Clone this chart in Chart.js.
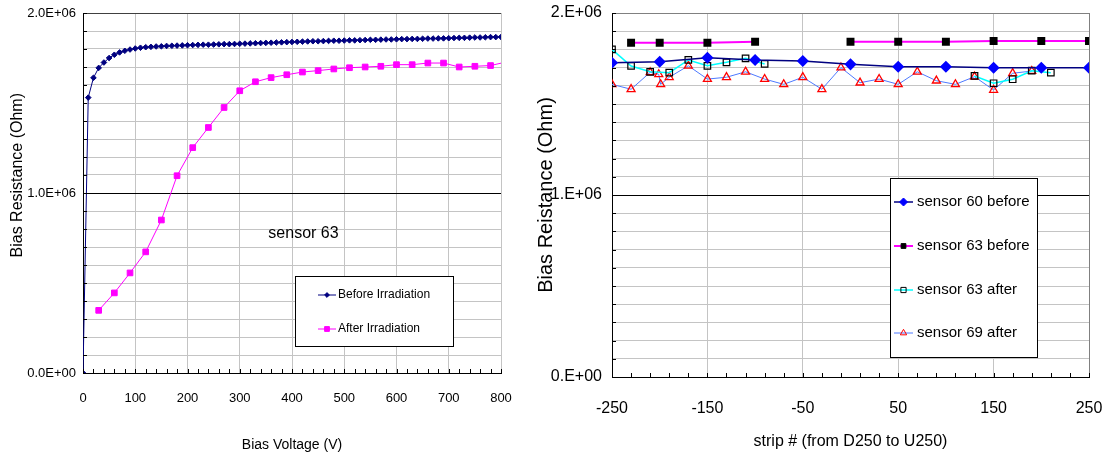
<!DOCTYPE html>
<html>
<head>
<meta charset="utf-8">
<script src="https://cdn.jsdelivr.net/npm/chart.js"></script>
<style>
  body { margin: 0; background: #fff; }
  canvas { position: absolute; top: 0; }
  #left-chart { left: 0; }
  #right-chart { left: 520px; }
</style>
</head>
<body>
<canvas id="left-chart" width="520" height="459"></canvas>
<canvas id="right-chart" width="587" height="459"></canvas>
<script>
// ---- left chart: sensor 63, resistance vs bias voltage (MOhm) ----
const biasVoltageBefore = [0, 10, 20, 30, 40, 50, 60, 70, 80, 90, 100, 110, 120, 130, 140, 150, 160, 170, 180, 190,
  200, 210, 220, 230, 240, 250, 260, 270, 280, 290, 300, 310, 320, 330, 340, 350, 360, 370, 380, 390,
  400, 410, 420, 430, 440, 450, 460, 470, 480, 490, 500, 510, 520, 530, 540, 550, 560, 570, 580, 590,
  600, 610, 620, 630, 640, 650, 660, 670, 680, 690, 700, 710, 720, 730, 740, 750, 760, 770, 780, 790, 800];
const resistanceBefore = [0, 1.53, 1.64, 1.695, 1.725, 1.75, 1.768, 1.781, 1.79, 1.797, 1.803, 1.807, 1.81, 1.812, 1.814, 1.815, 1.817, 1.818, 1.819, 1.82,
  1.821, 1.822, 1.823, 1.824, 1.824, 1.825, 1.826, 1.827, 1.827, 1.828, 1.829, 1.83, 1.831, 1.832, 1.833, 1.834, 1.835, 1.836, 1.837, 1.838,
  1.839, 1.84, 1.841, 1.842, 1.843, 1.843, 1.844, 1.845, 1.846, 1.846, 1.847, 1.848, 1.848, 1.849, 1.85, 1.851, 1.851, 1.852, 1.853, 1.853,
  1.854, 1.855, 1.855, 1.856, 1.856, 1.857, 1.858, 1.858, 1.859, 1.859, 1.86, 1.861, 1.862, 1.862, 1.863, 1.864, 1.864, 1.865, 1.866, 1.866, 1.867];

const biasVoltageAfter = [30, 60, 90, 120, 150, 180, 210, 240, 270, 300, 330, 360, 390, 420, 450, 480, 510, 540, 570, 600, 630, 660, 690, 720, 750, 780, 810];
const resistanceAfter = [0.348, 0.445, 0.556, 0.673, 0.85, 1.096, 1.252, 1.364, 1.475, 1.568, 1.618, 1.641, 1.657, 1.672, 1.68, 1.689, 1.696, 1.7, 1.704, 1.713, 1.713, 1.722, 1.722, 1.7, 1.704, 1.708, 1.728];

const leftYTickValues = [0, 1, 2];
const leftYTickLabels = ['0.0E+00', '1.0E+06', '2.0E+06'];
const leftXTickValues = [0, 100, 200, 300, 400, 500, 600, 700, 800];

// ---- right chart: resistance per strip (MOhm) ----
const s60BeforeStrips = [-250, -200, -150, -100, -50, 0, 50, 100, 150, 200, 250];
const s60Before = [1.727, 1.732, 1.754, 1.742, 1.736, 1.718, 1.705, 1.705, 1.699, 1.699, 1.699];

const s63BeforeStrips = [-230, -200, -150, -100, -50, 0, 50, 100, 150, 200, 250];
const s63Before = [1.837, 1.837, 1.837, 1.842, null, 1.842, 1.842, 1.842, 1.846, 1.846, 1.846];

const s63AfterStrips = [-250, -230, -210, -190, -170, -150, -130, -110, -90, 20, 130, 150, 170, 190, 210];
const s63After = [1.8, 1.709, 1.677, 1.672, 1.742, 1.71, 1.729, 1.751, 1.72, null, 1.654, 1.614, 1.636, 1.683, 1.672];

const s69AfterStrips = [-250, -230, -210, -201, -199, -190, -170, -150, -130, -110, -90, -70, -50, -30, -10,
  10, 30, 50, 70, 90, 110, 130, 150, 170, 190];
const s69After = [1.608, 1.581, 1.674, 1.663, 1.608, 1.647, 1.71, 1.637, 1.647, 1.677, 1.637, 1.608, 1.647, 1.581, 1.7,
  1.617, 1.637, 1.608, 1.677, 1.628, 1.608, 1.65, 1.577, 1.669, 1.681];

const rightYTickValues = [0, 1, 2];
const rightYTickLabels = ['0.E+00', '1.E+06', '2.E+06'];
const rightXTickValues = [-250, -150, -50, 50, 150, 250];

const FONT = "'Liberation Sans', Arial, sans-serif";
Chart.defaults.font.family = FONT;
Chart.defaults.color = '#000';

function toPoints(xs, ys) {
  return xs.map((x, i) => ({ x: x, y: ys[i] }));
}

function labelFor(values, labels, v) {
  const i = values.findIndex(t => Math.abs(t - v) < 1e-9);
  return i >= 0 ? labels[i] : '';
}

// fixed axis sizes, no extra room for overflowing end labels
function fixHeight(h) {
  return s => { s.height = h; s.paddingLeft = 0; s.paddingRight = 0; };
}
function fixWidth(w) {
  return s => { s.width = w; s.paddingTop = 0; s.paddingBottom = 0; };
}

// small tick marks drawn inside the plot area
const innerTicks = {
  id: 'innerTicks',
  afterDatasetsDraw(chart) {
    const { ctx, chartArea: a, scales } = chart;
    ctx.save();
    ctx.strokeStyle = '#000';
    ctx.lineWidth = 1;
    ctx.beginPath();
    scales.x.ticks.forEach(t => {
      const px = Math.round(scales.x.getPixelForValue(t.value)) + 0.5;
      ctx.moveTo(px, a.bottom);
      ctx.lineTo(px, a.bottom - 4);
    });
    scales.y.ticks.forEach(t => {
      const py = Math.round(scales.y.getPixelForValue(t.value)) + 0.5;
      ctx.moveTo(a.left, py);
      ctx.lineTo(a.left + 4, py);
    });
    ctx.stroke();
    ctx.restore();
  }
};

function drawMarker(ctx, style, r, x, y) {
  if (Chart.helpers && Chart.helpers.drawPoint) {
    Chart.helpers.drawPoint(ctx, { pointStyle: style, radius: r, rotation: 0, borderWidth: 1 }, x, y);
    return;
  }
  ctx.beginPath();
  ctx.rect(x - r * 0.7, y - r * 0.7, r * 1.4, r * 1.4);
  ctx.fill();
  ctx.stroke();
}

// boxed legend placed inside the plot
const boxLegend = {
  id: 'boxLegend',
  afterDraw(chart, args, o) {
    const { ctx } = chart;
    ctx.save();
    ctx.fillStyle = '#fff';
    ctx.fillRect(o.x, o.y, o.w, o.h);
    ctx.strokeStyle = '#000';
    ctx.lineWidth = 1;
    ctx.strokeRect(o.x + 0.5, o.y + 0.5, o.w, o.h);
    ctx.font = o.size + 'px ' + FONT;
    ctx.textBaseline = 'middle';
    ctx.textAlign = 'left';
    chart.data.datasets.forEach((ds, i) => {
      const y = o.rows[i];
      ctx.strokeStyle = ds.borderColor;
      ctx.lineWidth = ds.borderWidth;
      ctx.beginPath();
      ctx.moveTo(o.lineX0, y);
      ctx.lineTo(o.lineX1, y);
      ctx.stroke();
      ctx.fillStyle = ds.pointBackgroundColor;
      ctx.strokeStyle = ds.pointBorderColor;
      ctx.lineWidth = 1;
      drawMarker(ctx, ds.pointStyle, ds.pointRadius * o.markerScale, (o.lineX0 + o.lineX1) / 2, y);
      ctx.fillStyle = '#000';
      ctx.fillText(ds.label, o.textX, y);
    });
    ctx.restore();
  }
};

// free text label at data coordinates
const noteText = {
  id: 'noteText',
  afterDatasetsDraw(chart, args, o) {
    if (!o.text) return;
    const { ctx, scales } = chart;
    ctx.save();
    ctx.font = o.size + 'px ' + FONT;
    ctx.fillStyle = '#000';
    ctx.textAlign = 'center';
    ctx.textBaseline = 'middle';
    ctx.fillText(o.text, scales.x.getPixelForValue(o.x), scales.y.getPixelForValue(o.y));
    ctx.restore();
  }
};

function renderLeftChart() {
  const data = {
    datasets: [
      {
        label: 'Before Irradiation',
        data: toPoints(biasVoltageBefore, resistanceBefore),
        borderColor: '#000080',
        borderWidth: 1,
        pointStyle: 'rectRot',
        pointRadius: 2.8,
        pointBackgroundColor: '#000080',
        pointBorderColor: '#000080',
        tension: 0
      },
      {
        label: 'After Irradiation',
        data: toPoints(biasVoltageAfter, resistanceAfter),
        borderColor: '#ff00ff',
        borderWidth: 1,
        pointStyle: 'rect',
        pointRadius: 4,
        pointBackgroundColor: '#ff00ff',
        pointBorderColor: '#ff00ff',
        tension: 0
      }
    ]
  };

  const config = {
    type: 'line',
    data: data,
    options: {
      responsive: false,
      animation: false,
      layout: { padding: { left: 0, right: 19, top: 13, bottom: 0 } },
      plugins: {
        legend: { display: false },
        tooltip: { enabled: false },
        boxLegend: { x: 295, y: 276, w: 158, h: 70, rows: [295, 329], lineX0: 318, lineX1: 336, textX: 338, size: 12, markerScale: 0.85 },
        noteText: { text: 'sensor 63', x: 422, y: 0.772, size: 16 }
      },
      scales: {
        x: {
          type: 'linear', min: 0, max: 800,
          ticks: {
            stepSize: 20, autoSkip: false, maxRotation: 0, padding: 18,
            font: { size: 13 },
            callback: v => leftXTickValues.includes(v) ? String(v) : ''
          },
          grid: {
            drawTicks: false,
            color: c => (c.tick && c.tick.value % 100 === 0) ? '#c4c4c4' : 'rgba(0,0,0,0)'
          },
          border: { color: '#000', width: 1 },
          title: { display: true, text: 'Bias Voltage (V)', font: { size: 14 }, padding: { top: 0, bottom: 5 } },
          afterFit: fixHeight(86)
        },
        y: {
          type: 'linear', min: 0, max: 2,
          ticks: {
            stepSize: 0.1, autoSkip: false, padding: 7,
            font: { size: 13 },
            callback: v => labelFor(leftYTickValues, leftYTickLabels, v)
          },
          grid: {
            drawTicks: false,
            color: c => {
              const v = c.tick ? c.tick.value : 0;
              if (Math.abs(v - 1) < 1e-9) return '#000';
              if (Math.abs(v - 2) < 1e-9) return '#404040';
              return '#c4c4c4';
            }
          },
          border: { color: '#000', width: 1 },
          // leading spaces push the visible title up, as in the original
          title: { display: true, text: '        Bias Resistance (Ohm)', font: { size: 16 }, padding: { top: 8, bottom: 0 } },
          afterFit: fixWidth(83)
        }
      }
    },
    plugins: [innerTicks, noteText, boxLegend]
  };

  new Chart(document.getElementById('left-chart'), config);
}

function renderRightChart() {
  const data = {
    datasets: [
      {
        label: 'sensor 60 before',
        data: toPoints(s60BeforeStrips, s60Before),
        borderColor: '#000080',
        borderWidth: 1.5,
        pointStyle: 'rectRot',
        pointRadius: 5,
        pointBackgroundColor: '#0000ff',
        pointBorderColor: '#0000ff',
        tension: 0
      },
      {
        label: 'sensor 63 before',
        data: toPoints(s63BeforeStrips, s63Before),
        borderColor: '#ff00ff',
        borderWidth: 2,
        pointStyle: 'rect',
        pointRadius: 4.2,
        pointBackgroundColor: '#000',
        pointBorderColor: '#000',
        tension: 0
      },
      {
        label: 'sensor 63 after',
        data: toPoints(s63AfterStrips, s63After),
        borderColor: '#00ffff',
        borderWidth: 1.5,
        pointStyle: 'rect',
        pointRadius: 4.6,
        pointBackgroundColor: 'rgba(255,255,255,0)',
        pointBorderColor: '#000',
        pointBorderWidth: 1.2,
        tension: 0
      },
      {
        label: 'sensor 69 after',
        data: toPoints(s69AfterStrips, s69After),
        borderColor: '#4d79ff',
        borderWidth: 1,
        pointStyle: 'triangle',
        pointRadius: 4.6,
        pointBackgroundColor: 'rgba(255,255,255,0)',
        pointBorderColor: '#ff0000',
        pointBorderWidth: 1.3,
        tension: 0
      }
    ]
  };

  const config = {
    type: 'line',
    data: data,
    options: {
      responsive: false,
      animation: false,
      layout: { padding: { left: 0, right: 18, top: 13, bottom: 0 } },
      plugins: {
        legend: { display: false },
        tooltip: { enabled: false },
        boxLegend: { x: 370, y: 178, w: 147, h: 179, rows: [202, 246, 290, 333], lineX0: 374, lineX1: 393, textX: 397, size: 15, markerScale: 0.8 }
      },
      scales: {
        x: {
          type: 'linear', min: -250, max: 250,
          ticks: {
            stepSize: 20, autoSkip: false, maxRotation: 0, padding: 22,
            font: { size: 16 },
            callback: v => rightXTickValues.includes(v) ? String(v) : ''
          },
          grid: {
            drawTicks: false,
            color: c => {
              const v = c.tick ? c.tick.value : 0;
              if (v === 250) return '#808080';
              return rightXTickValues.includes(v) ? '#c4c4c4' : 'rgba(0,0,0,0)';
            }
          },
          border: { color: '#000', width: 1 },
          title: { display: true, text: 'strip # (from D250 to U250)', font: { size: 16 }, padding: { top: 0, bottom: 8 } },
          afterFit: fixHeight(82)
        },
        y: {
          type: 'linear', min: 0, max: 2,
          ticks: {
            stepSize: 0.1, autoSkip: false, padding: 10,
            font: { size: 16 },
            callback: v => labelFor(rightYTickValues, rightYTickLabels, v)
          },
          grid: {
            drawTicks: false,
            color: c => {
              const v = c.tick ? c.tick.value : 0;
              if (Math.abs(v - 1) < 1e-9) return '#000';
              if (Math.abs(v - 2) < 1e-9) return '#808080';
              return '#c4c4c4';
            }
          },
          border: { color: '#000', width: 1 },
          title: { display: true, text: 'Bias Reistance (Ohm)', font: { size: 20 }, padding: { top: 14, bottom: 0 } },
          afterFit: fixWidth(92)
        }
      }
    },
    plugins: [innerTicks, boxLegend]
  };

  new Chart(document.getElementById('right-chart'), config);
}

renderLeftChart();
renderRightChart();
</script>
</body>
</html>
